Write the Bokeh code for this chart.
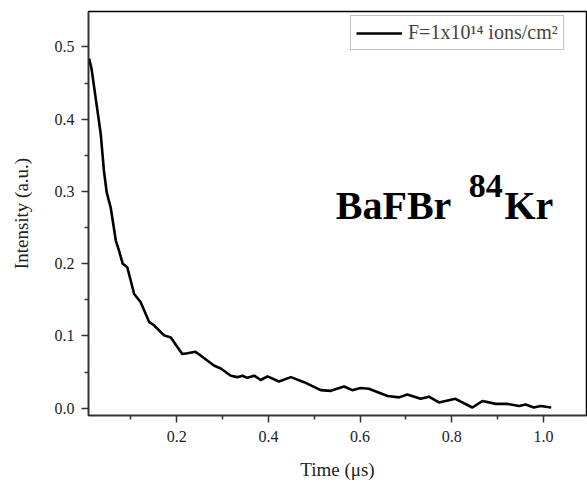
from bokeh.plotting import figure
from bokeh.models import Range1d, FixedTicker, Legend, LegendItem, Label, PrintfTickFormatter
from bokeh.embed import file_html
from bokeh.resources import INLINE

time_us = [0.0087, 0.014, 0.034, 0.041, 0.047, 0.056, 0.067, 0.074, 0.082, 0.092,
           0.107, 0.121, 0.140, 0.150, 0.172, 0.187, 0.212, 0.223, 0.241, 0.252,
           0.281, 0.296, 0.318, 0.332, 0.343, 0.354, 0.369, 0.383, 0.398, 0.423,
           0.449, 0.478, 0.514, 0.536, 0.565, 0.583, 0.601, 0.619, 0.660, 0.685,
           0.703, 0.732, 0.750, 0.772, 0.808, 0.845, 0.867, 0.896, 0.921, 0.947,
           0.961, 0.979, 0.994, 1.017]
intensity = [0.484, 0.470, 0.380, 0.329, 0.299, 0.277, 0.232, 0.218, 0.200, 0.195,
             0.158, 0.147, 0.119, 0.115, 0.101, 0.098, 0.075, 0.076, 0.078, 0.073,
             0.059, 0.055, 0.045, 0.043, 0.045, 0.042, 0.045, 0.039, 0.044, 0.037,
             0.043, 0.036, 0.025, 0.024, 0.030, 0.025, 0.028, 0.027, 0.017, 0.015,
             0.019, 0.013, 0.016, 0.008, 0.013, 0.001, 0.010, 0.006, 0.006, 0.003,
             0.005, 0.001, 0.003, 0.001]

x_major = [0.2, 0.4, 0.6, 0.8, 1.0]
x_minor = [0.1, 0.3, 0.5, 0.7, 0.9]
y_major = [0.0, 0.1, 0.2, 0.3, 0.4, 0.5]
y_minor = [0.05, 0.15, 0.25, 0.35, 0.45]

series_label = "F=1x10\u00b9\u2074 ions/cm\u00b2"
FONT = "Liberation Serif"

p = figure(width=587, height=488, output_backend="svg", toolbar_location=None,
           x_range=Range1d(0.0074, 1.094), y_range=Range1d(-0.0101, 0.549),
           min_border_left=88, min_border_right=1, min_border_top=11,
           min_border_bottom=73)
p.grid.visible = False
p.outline_line_color = "black"
p.outline_line_width = 1.5
p.background_fill_color = "white"
p.border_fill_color = "white"

r = p.line(time_us, intensity, line_color="black", line_width=2.6,
           line_join="round")

for ax in (p.xaxis[0], p.yaxis[0]):
    ax.axis_line_color = "#333333"
    ax.axis_line_width = 1.5
    ax.major_tick_line_color = "#333333"
    ax.minor_tick_line_color = "#333333"
    ax.major_tick_line_width = 1.5
    ax.minor_tick_line_width = 1.5
    ax.major_tick_out = 7
    ax.major_tick_in = 0
    ax.minor_tick_out = 4
    ax.minor_tick_in = 0
    ax.major_label_text_font = FONT
    ax.major_label_text_font_size = "16px"
    ax.major_label_text_color = "#222222"
    ax.axis_label_text_font = FONT
    ax.axis_label_text_font_size = "19px"
    ax.axis_label_text_font_style = "normal"
    ax.axis_label_text_color = "#222222"
    ax.formatter = PrintfTickFormatter(format="%.1f")

p.xaxis[0].ticker = FixedTicker(ticks=x_major, minor_ticks=x_minor)
p.yaxis[0].ticker = FixedTicker(ticks=y_major, minor_ticks=y_minor)
p.xaxis[0].axis_label = "Time (\u03bcs)"
p.yaxis[0].axis_label = "Intensity (a.u.)"
p.xaxis[0].major_label_standoff = 8
p.xaxis[0].axis_label_standoff = 14
p.yaxis[0].major_label_standoff = 7
p.yaxis[0].axis_label_standoff = 20

legend = Legend(items=[LegendItem(label=series_label, renderers=[r])],
                location=(262, 365), margin=0, padding=5, spacing=0,
                glyph_width=46, glyph_height=20, label_height=20,
                label_standoff=6,
                label_text_font=FONT, label_text_font_size="20px",
                border_line_color="#888888", border_line_width=1.2,
                background_fill_alpha=1.0)
p.add_layout(legend)

p.add_layout(Label(x=0.547, y=0.281, text="BaFBr", text_font=FONT,
                   text_font_size="40px", text_font_style="bold",
                   text_baseline="alphabetic", text_color="black"))
p.add_layout(Label(x=0.837, y=0.308, text="84", text_font=FONT,
                   text_font_size="34px", text_font_style="bold",
                   text_baseline="alphabetic", text_color="black"))
p.add_layout(Label(x=0.915, y=0.281, text="Kr", text_font=FONT,
                   text_font_size="40px", text_font_style="bold",
                   text_baseline="alphabetic", text_color="black"))

open("out.html", "w").write(file_html(p, INLINE))
